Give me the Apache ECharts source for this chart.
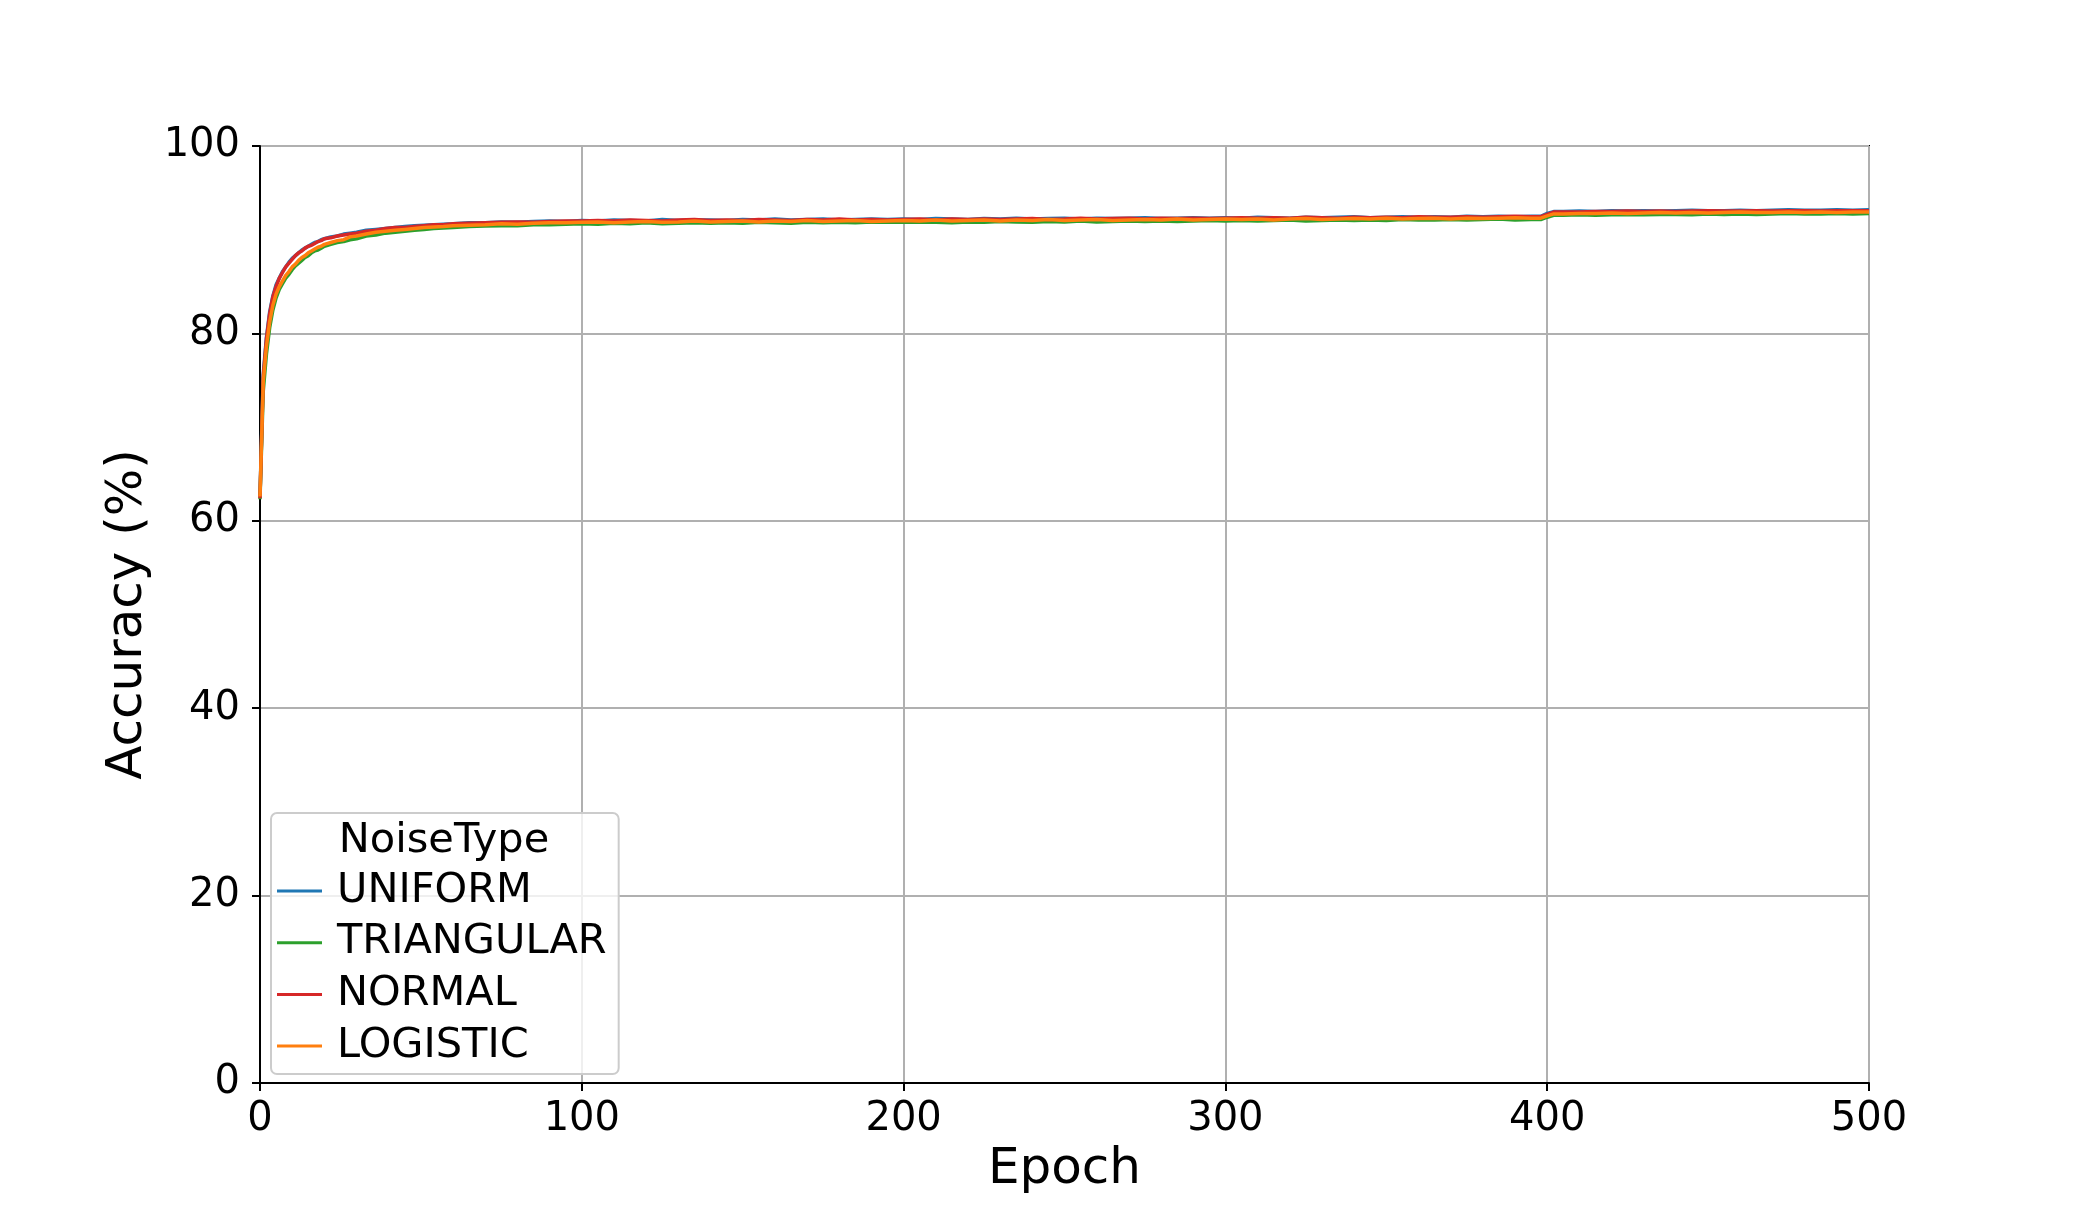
<!DOCTYPE html>
<html>
<head>
<meta charset="utf-8">
<script src="https://cdn.jsdelivr.net/npm/echarts@6/dist/echarts.min.js"></script>
<style>
html,body{margin:0;padding:0;background:#fff;}
#chart{width:2078px;height:1217px;}
</style>
</head>
<body>
<div id="chart"></div>
<script>
const epochs = [0,1,2,3,4,5,6,7,8,9,10,11,12,13,14,15,16,17,18,19,20,
22,24,26,28,30,
33,36,39,42,45,48,51,54,57,60,
65,70,75,80,85,90,95,
100,105,110,115,120,125,130,135,140,145,150,155,160,165,170,175,180,185,190,195,
200,205,210,215,220,225,230,235,240,245,250,255,260,265,270,275,280,285,290,295,
300,305,310,315,320,325,330,335,340,345,350,355,360,365,370,375,380,385,390,395,
398,400,402,
405,410,415,420,425,430,435,440,445,450,455,460,465,470,475,480,485,490,495,500];

const uniform = [62.7,75.6,79.6,82.3,84.0,85.2,85.9,86.6,87.1,87.6,88.0,88.3,88.6,88.9,89.1,89.3,89.5,89.7,89.8,90.0,90.1,
90.3,90.4,90.6,90.7,90.8,
91.0,91.1,91.2,91.3,91.4,91.5,91.55,91.6,91.65,91.7,
91.8,91.8,91.9,91.85,91.95,92.0,91.95,
92.05,92.0,92.1,92.05,92.0,92.15,92.05,92.1,92.1,92.05,92.15,92.1,92.2,92.1,92.15,92.2,92.1,92.15,92.2,92.15,
92.2,92.15,92.25,92.2,92.15,92.25,92.2,92.3,92.2,92.25,92.3,92.2,92.3,92.25,92.3,92.35,92.25,92.3,92.35,92.3,
92.35,92.3,92.4,92.35,92.3,92.4,92.35,92.4,92.45,92.35,92.4,92.45,92.4,92.45,92.4,92.5,92.45,92.5,92.45,92.5,
92.5,92.8,93.0,
93.0,93.05,93.0,93.1,93.05,93.1,93.05,93.1,93.15,93.1,93.1,93.15,93.1,93.15,93.2,93.15,93.15,93.2,93.15,93.2];

const triangular = [62.3,73.8,77.8,80.6,82.5,83.8,84.7,85.3,85.9,86.3,86.8,87.2,87.5,87.8,88.1,88.3,88.6,88.8,88.9,89.1,89.3,
89.5,89.7,89.8,90.0,90.1,
90.4,90.5,90.7,90.8,90.9,91.0,91.1,91.2,91.25,91.3,
91.4,91.45,91.5,91.5,91.6,91.6,91.65,
91.7,91.65,91.75,91.7,91.8,91.7,91.75,91.8,91.75,91.8,91.75,91.85,91.8,91.75,91.85,91.8,91.85,91.8,91.9,91.85,
91.85,91.9,91.85,91.8,91.9,91.85,91.95,91.9,91.85,91.95,91.9,92.0,91.9,91.95,92.0,91.95,92.0,91.95,92.0,92.05,
92.0,92.05,92.0,92.05,92.1,92.0,92.05,92.1,92.05,92.1,92.05,92.15,92.1,92.1,92.15,92.1,92.15,92.2,92.1,92.15,
92.15,92.4,92.6,
92.6,92.65,92.6,92.65,92.7,92.65,92.7,92.7,92.65,92.75,92.7,92.75,92.7,92.75,92.8,92.75,92.75,92.8,92.75,92.8];

const normal = [62.4,75.3,79.4,82.1,83.9,85.0,85.9,86.5,87.1,87.5,87.9,88.3,88.6,88.8,89.1,89.3,89.4,89.6,89.8,89.9,90.1,
90.2,90.4,90.5,90.6,90.7,
90.9,91.0,91.2,91.3,91.3,91.4,91.5,91.6,91.6,91.7,
91.75,91.8,91.85,91.9,91.85,91.95,92.0,
92.0,92.05,92.0,92.1,92.05,92.0,92.1,92.15,92.05,92.1,92.05,92.15,92.1,92.05,92.15,92.1,92.2,92.1,92.15,92.1,
92.15,92.2,92.1,92.2,92.15,92.2,92.15,92.2,92.25,92.15,92.2,92.3,92.2,92.25,92.3,92.2,92.3,92.25,92.3,92.25,
92.3,92.35,92.3,92.35,92.3,92.4,92.35,92.3,92.4,92.35,92.4,92.35,92.45,92.4,92.4,92.45,92.4,92.45,92.5,92.45,
92.45,92.7,92.95,
92.95,92.95,93.0,93.0,93.05,93.0,93.05,93.0,93.05,93.1,93.05,93.05,93.1,93.05,93.1,93.1,93.05,93.1,93.1,93.1];

const logistic = [62.6,74.8,78.6,81.2,83.0,84.2,85.0,85.6,86.2,86.6,87.1,87.4,87.8,88.1,88.3,88.6,88.8,89.0,89.2,89.3,89.5,
89.7,89.9,90.0,90.3,90.4,
90.6,90.8,90.9,91.0,91.1,91.2,91.3,91.35,91.4,91.5,
91.55,91.6,91.7,91.65,91.75,91.8,91.8,
91.85,91.9,91.8,91.9,91.95,91.85,91.9,92.0,91.9,91.95,92.0,91.9,92.0,91.95,92.05,91.95,92.0,92.05,91.95,92.0,
92.05,92.0,92.1,92.0,92.05,92.1,92.0,92.1,92.05,92.15,92.05,92.1,92.15,92.05,92.1,92.15,92.1,92.2,92.1,92.15,
92.2,92.15,92.2,92.1,92.2,92.25,92.15,92.2,92.25,92.2,92.3,92.2,92.25,92.3,92.2,92.3,92.25,92.3,92.35,92.3,
92.3,92.55,92.75,
92.75,92.8,92.8,92.85,92.8,92.85,92.9,92.85,92.9,92.85,92.9,92.95,92.9,92.9,92.95,92.9,92.95,92.9,92.95,92.95];

const seriesNames = ['UNIFORM','TRIANGULAR','NORMAL','LOGISTIC'];
const seriesValues = [uniform, triangular, normal, logistic];
const seriesColors = ['#1f77b4','#2ca02c','#d62728','#ff7f0e'];
const xTicks = {min:0, max:500, interval:100};
const yTicks = {min:0, max:100, interval:20};

const FONT = 'DejaVu Sans';
const chart = echarts.init(document.getElementById('chart'), null, {renderer:'canvas'});

const series = seriesNames.map((name, i) => ({
  name: name,
  type: 'line',
  data: epochs.map((e, j) => [e, seriesValues[i][j]]),
  showSymbol: false,
  symbol: 'none',
  smooth: false,
  lineStyle: {width: 3.5, color: seriesColors[i]},
  itemStyle: {color: seriesColors[i]},
  z: 2 + i,
  animation: false
}));

chart.setOption({
  animation: false,
  backgroundColor: '#ffffff',
  textStyle: {fontFamily: FONT},
  grid: {left: 260, right: 209, top: 146, bottom: 134, show: true, borderColor: '#000', borderWidth: 2, backgroundColor: 'transparent'},
  xAxis: {
    type: 'value', min: xTicks.min, max: xTicks.max, interval: xTicks.interval,
    name: 'Epoch', nameLocation: 'middle', nameGap: 62,
    nameTextStyle: {fontSize: 50, color: '#000', fontFamily: FONT},
    axisLine: {show: true, lineStyle: {color: '#000', width: 2}},
    axisTick: {show: true, length: 8, lineStyle: {color: '#000', width: 2}},
    axisLabel: {fontSize: 40, color: '#000', margin: 17, fontFamily: FONT},
    splitLine: {show: true, lineStyle: {color: '#b0b0b0', width: 2}}
  },
  yAxis: {
    type: 'value', min: yTicks.min, max: yTicks.max, interval: yTicks.interval,
    name: 'Accuracy (%)', nameLocation: 'middle', nameGap: 92,
    nameTextStyle: {fontSize: 50, color: '#000', fontFamily: FONT},
    axisLine: {show: true, lineStyle: {color: '#000', width: 2}},
    axisTick: {show: true, length: 8, lineStyle: {color: '#000', width: 2}},
    axisLabel: {fontSize: 40, color: '#000', margin: 20, fontFamily: FONT},
    splitLine: {show: true, lineStyle: {color: '#b0b0b0', width: 2}}
  },
  legend: {
    orient: 'vertical',
    left: 271, top: 813,
    padding: [57, 12, 7, 6],
    itemWidth: 45, itemHeight: 3, itemGap: 9.7,
    icon: 'rect',
    data: seriesNames,
    backgroundColor: 'rgba(255,255,255,0.8)',
    borderColor: '#cccccc', borderWidth: 2, borderRadius: 6,
    textStyle: {fontSize: 41.5, lineHeight: 40, color: '#000', fontFamily: FONT, padding: [0,0,0,10]},
    selectedMode: false,
    z: 10
  },
  graphic: [{
    type: 'text', x: 444, y: 841, z: 20,
    style: {text: 'NoiseType', fontSize: 41.5, fontFamily: FONT, fill: '#000', align: 'center', verticalAlign: 'middle'}
  }],
  series: series
});
</script>
</body>
</html>
